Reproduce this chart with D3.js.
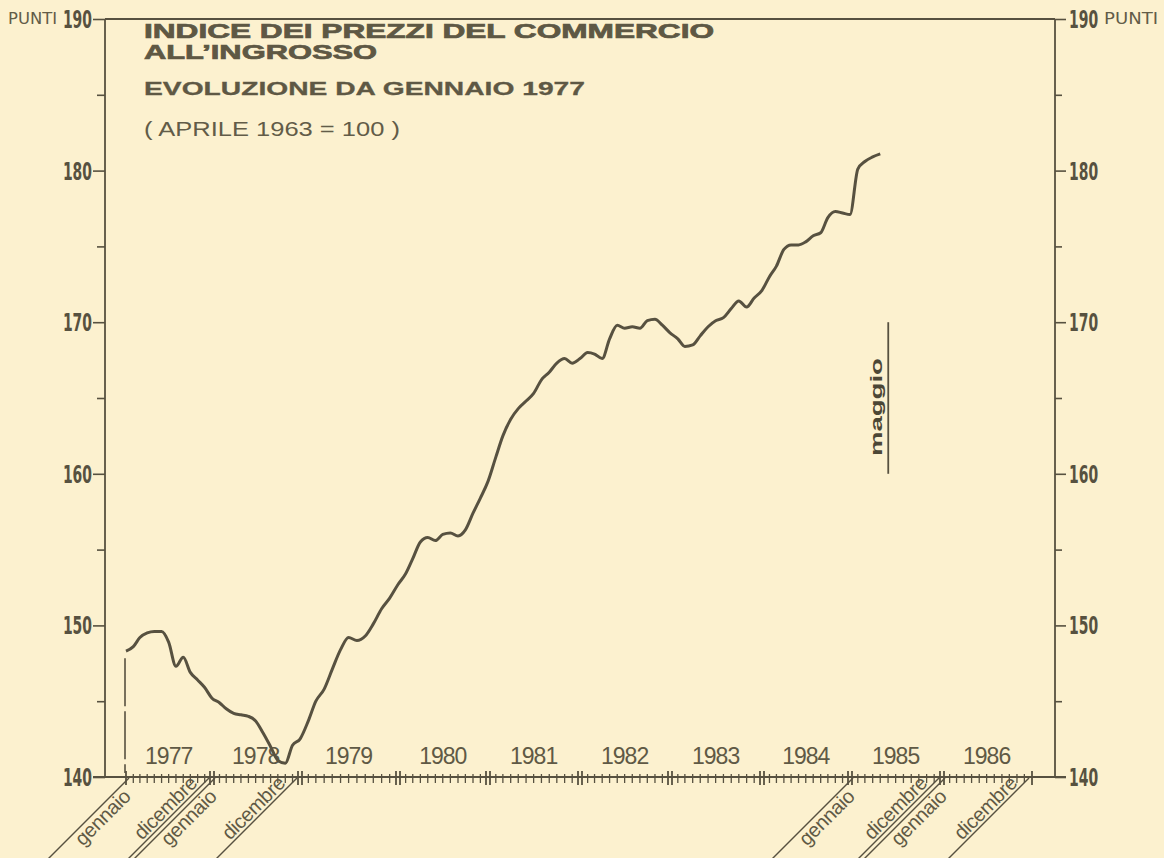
<!DOCTYPE html>
<html>
<head>
<meta charset="utf-8">
<script src="https://cdn.jsdelivr.net/npm/d3@7"></script>
<style>
  body { margin: 0; background: #fcf1cf; }
  svg { display: block; }
</style>
</head>
<body>
<div id="chart"></div>
<script>
// indice dei prezzi all'ingrosso, mensile, gennaio 1977 - maggio 1985
const startDate = new Date(1977, 0, 1)
const endDate = new Date(1987, 0, 1)
const indexValues = [
  148.3, 148.6, 149.2, 149.5, 149.6, 149.6, 148.9, 147.3, 147.9, 146.9, 146.4, 145.9, // 1977
  145.2, 144.9, 144.5, 144.2, 144.1, 144.0, 143.7, 142.9, 142.0, 141.1, 140.9, 142.1, // 1978
  142.5, 143.7, 145.0, 145.8, 147.1, 148.4, 149.2, 149.0, 149.3, 150.1, 151.1, 151.8, // 1979
  152.7, 153.4, 154.4, 155.5, 155.8, 155.6, 156.0, 156.1, 155.9, 156.3, 157.4, 158.4, // 1980
  159.5, 161.1, 162.5, 163.6, 164.3, 164.8, 165.3, 166.2, 166.7, 167.3, 167.6, 167.3, // 1981
  167.6, 168.0, 167.9, 167.6, 168.9, 169.8, 169.6, 169.7, 169.6, 170.1, 170.2, 169.8, // 1982
  169.3, 168.9, 168.4, 168.5, 169.1, 169.7, 170.1, 170.3, 170.9, 171.4, 171.0, 171.6, // 1983
  172.1, 173.0, 173.7, 174.8, 175.1, 175.1, 175.3, 175.7, 175.9, 176.9, 177.3, 177.2, // 1984
  177.1, 180.1, 180.6, 180.9, 181.1                                                   // 1985
]
const yearLabels = ["1977", "1978", "1979", "1980", "1981", "1982", "1983", "1984", "1985", "1986"]
const majorTicks = [140, 150, 160, 170, 180, 190]
const minorTicks = [145, 155, 165, 175, 185]
// etichette oblique sotto l'asse: [testo, data del confine]
const monthNotes = [
  ["gennaio", new Date(1977, 0, 1)],
  ["dicembre", new Date(1978, 0, 1)],
  ["gennaio", new Date(1978, 0, 1)],
  ["dicembre", new Date(1979, 0, 1)],
  ["gennaio", new Date(1985, 0, 1)],
  ["dicembre", new Date(1986, 0, 1)],
  ["gennaio", new Date(1986, 0, 1)],
  ["dicembre", new Date(1987, 0, 1)]
]
const lastMonth = ["maggio", 164.4]
const titleLines = ["INDICE DEI PREZZI DEL COMMERCIO", "ALL\u2019INGROSSO"]
const subtitle = "EVOLUZIONE  DA  GENNAIO  1977"
const baseNote = "( APRILE  1963 = 100 )"

const data = indexValues.map((v, i) => ({ date: d3.timeMonth.offset(startDate, i), value: v }))

const svgWidth = 1164
const svgHeight = 858
const ink = "#575140"

const axisLeftX = 105
const axisRightX = 1055

// l'asse del grafico originale non ha anni tutti uguali
const yearEdges = d3.timeYear.range(startDate, d3.timeYear.offset(endDate, 1))
const x = d3.scaleTime()
  .domain(yearEdges)
  .range([126, 212, 300, 398, 488, 580, 670, 762, 850, 942, 1032])
const y = d3.scaleLinear().domain([140, 190]).range([777, 19])

let svg = d3.select("#chart").append("svg")
  .attr("width", svgWidth)
  .attr("height", svgHeight)

svg.append("rect").attr("width", svgWidth).attr("height", svgHeight).attr("fill", "#fcf1cf")

// --- assi verticali ---
svg.append("g")
  .attr("transform", `translate(${axisLeftX},0)`)
  .call(d3.axisLeft(y).tickValues(majorTicks).tickSize(12).tickFormat(""))
svg.append("g")
  .attr("transform", `translate(${axisLeftX},0)`)
  .call(d3.axisLeft(y).tickValues(minorTicks).tickSize(8).tickFormat(""))
svg.append("g")
  .attr("transform", `translate(${axisRightX},0)`)
  .call(d3.axisRight(y).tickValues(majorTicks).tickSize(11).tickFormat(""))
svg.append("g")
  .attr("transform", `translate(${axisRightX},0)`)
  .call(d3.axisRight(y).tickValues(minorTicks).tickSize(7).tickFormat(""))

svg.selectAll(".domain").remove()
svg.selectAll(".tick line").attr("stroke", ink).attr("stroke-width", 1.6)

svg.append("line")
  .attr("x1", axisLeftX).attr("x2", axisLeftX)
  .attr("y1", y(190)).attr("y2", y(140))
  .attr("stroke", ink).attr("stroke-width", 1.8)
svg.append("line")
  .attr("x1", axisRightX).attr("x2", axisRightX)
  .attr("y1", y(190)).attr("y2", y(140))
  .attr("stroke", ink).attr("stroke-width", 1.8)
// linea superiore a 190
svg.append("line")
  .attr("x1", axisLeftX).attr("x2", axisRightX)
  .attr("y1", y(190)).attr("y2", y(190))
  .attr("stroke", ink).attr("stroke-width", 1.8)

// etichette numeriche strette
const numFont = "'Liberation Sans Narrow', 'DejaVu Sans Condensed', sans-serif"
majorTicks.forEach(v => {
  svg.append("text")
    .attr("transform", `translate(${axisLeftX - 13},${y(v) + 9}) scale(0.62,1)`)
    .attr("text-anchor", "end")
    .attr("font-family", numFont)
    .attr("font-weight", "bold")
    .attr("font-size", 25)
    .attr("fill", ink)
    .text(v)
  svg.append("text")
    .attr("transform", `translate(${axisRightX + 14},${y(v) + 9}) scale(0.62,1)`)
    .attr("text-anchor", "start")
    .attr("font-family", numFont)
    .attr("font-weight", "bold")
    .attr("font-size", 25)
    .attr("fill", ink)
    .text(v)
})
svg.append("text")
  .attr("x", 8).attr("y", 24)
  .attr("font-family", numFont).attr("font-size", 16)
  .attr("textLength", 49).attr("lengthAdjust", "spacingAndGlyphs")
  .attr("fill", "#625c48")
  .text("PUNTI")
svg.append("text")
  .attr("x", 1104).attr("y", 24)
  .attr("font-family", numFont).attr("font-size", 16)
  .attr("textLength", 54).attr("lengthAdjust", "spacingAndGlyphs")
  .attr("fill", "#625c48")
  .text("PUNTI")

// --- asse orizzontale ---
const axisY = y(140)
svg.append("line")
  .attr("x1", axisLeftX - 12).attr("x2", axisRightX + 11)
  .attr("y1", axisY).attr("y2", axisY)
  .attr("stroke", ink).attr("stroke-width", 1.8)

const monthTicks = d3.timeMonth.range(startDate, endDate)
svg.append("g").selectAll("line")
  .data(monthTicks.filter(d => d.getMonth() !== 0))
  .enter().append("line")
  .attr("x1", d => x(d)).attr("x2", d => x(d))
  .attr("y1", axisY - 3).attr("y2", axisY + 6)
  .attr("stroke", ink).attr("stroke-width", 1.3)

yearEdges.forEach(d => {
  const single = d.getFullYear() === 1977 || d.getFullYear() === 1987
  const offs = single ? [0] : [-2, 2]
  offs.forEach(o => {
    svg.append("line")
      .attr("x1", x(d) + o).attr("x2", x(d) + o)
      .attr("y1", axisY - 6).attr("y2", axisY + 8)
      .attr("stroke", ink).attr("stroke-width", 1.8)
  })
})

svg.append("g").selectAll("text")
  .data(yearLabels)
  .enter().append("text")
  .attr("x", d => x(new Date(+d, 6, 1)))
  .attr("y", axisY - 13)
  .attr("text-anchor", "middle")
  .attr("font-family", "'Liberation Sans', Arial, sans-serif")
  .attr("font-size", 23)
  .attr("letter-spacing", -1)
  .attr("fill", "#5f5945")
  .text(d => d)

// etichette oblique
monthNotes.forEach(([label, d]) => {
  const isGen = label === "gennaio"
  const shift = isGen ? 3 : -3
  let g = svg.append("g")
    .attr("transform", `translate(${x(d) + shift},${axisY + 1}) rotate(-45)`)
  g.append("line")
    .attr("x1", 0).attr("x2", -118)
    .attr("y1", 0).attr("y2", 0)
    .attr("stroke", ink).attr("stroke-width", 1.4)
  g.append("text")
    .attr("x", -12)
    .attr("y", isGen ? 16 : -3)
    .attr("text-anchor", "end")
    .attr("font-family", "'Liberation Sans', Arial, sans-serif")
    .attr("font-size", 20)
    .attr("letter-spacing", -0.3)
    .attr("fill", "#5f5945")
    .text(label)
})

// tratteggio iniziale
svg.append("line")
  .attr("x1", x(startDate) - 1).attr("x2", x(startDate) - 1)
  .attr("y1", y(indexValues[0]) + 7).attr("y2", axisY - 4)
  .attr("stroke", ink).attr("stroke-width", 1.6)
  .attr("stroke-dasharray", "48,5")

// --- serie ---
const line = d3.line()
  .x(d => x(d.date))
  .y(d => y(d.value))
  .curve(d3.curveMonotoneX)

svg.append("path")
  .datum(data)
  .attr("d", line)
  .attr("fill", "none")
  .attr("stroke", ink)
  .attr("stroke-width", 3)
  .attr("stroke-linejoin", "round")

// segno di maggio
const lastDate = data[data.length - 1].date
svg.append("line")
  .attr("x1", x(lastDate) + 8).attr("x2", x(lastDate) + 8)
  .attr("y1", y(170)).attr("y2", y(160))
  .attr("stroke", ink).attr("stroke-width", 1.8)
svg.append("text")
  .attr("transform", `translate(${x(lastDate) + 2},${y(lastMonth[1])}) rotate(-90)`)
  .attr("text-anchor", "middle")
  .attr("font-family", "'Liberation Sans', Arial, sans-serif")
  .attr("font-weight", "bold")
  .attr("font-size", 16)
  .attr("textLength", 98).attr("lengthAdjust", "spacingAndGlyphs")
  .attr("fill", "#4c4736")
  .text(lastMonth[0])

// --- titoli ---
const titleFont = "'Liberation Sans', Arial, sans-serif"
const titleInk = "#5e5844"
svg.append("text")
  .attr("x", 144).attr("y", 38)
  .attr("font-family", titleFont).attr("font-weight", "bold")
  .attr("font-size", 20)
  .attr("textLength", 570).attr("lengthAdjust", "spacingAndGlyphs")
  .attr("fill", titleInk).attr("stroke", titleInk).attr("stroke-width", 0.7)
  .text(titleLines[0])
svg.append("text")
  .attr("x", 144).attr("y", 59)
  .attr("font-family", titleFont).attr("font-weight", "bold")
  .attr("font-size", 20)
  .attr("textLength", 233).attr("lengthAdjust", "spacingAndGlyphs")
  .attr("fill", titleInk).attr("stroke", titleInk).attr("stroke-width", 0.7)
  .text(titleLines[1])
svg.append("text")
  .attr("x", 144).attr("y", 95)
  .attr("font-family", titleFont).attr("font-weight", "bold")
  .attr("font-size", 19)
  .attr("textLength", 441).attr("lengthAdjust", "spacingAndGlyphs")
  .attr("fill", titleInk).attr("stroke", titleInk).attr("stroke-width", 0.3)
  .text(subtitle)
svg.append("text")
  .attr("x", 144).attr("y", 136)
  .attr("font-family", titleFont)
  .attr("font-size", 20)
  .attr("textLength", 256).attr("lengthAdjust", "spacingAndGlyphs")
  .attr("fill", "#625c48")
  .text(baseNote)
</script>
</body>
</html>
